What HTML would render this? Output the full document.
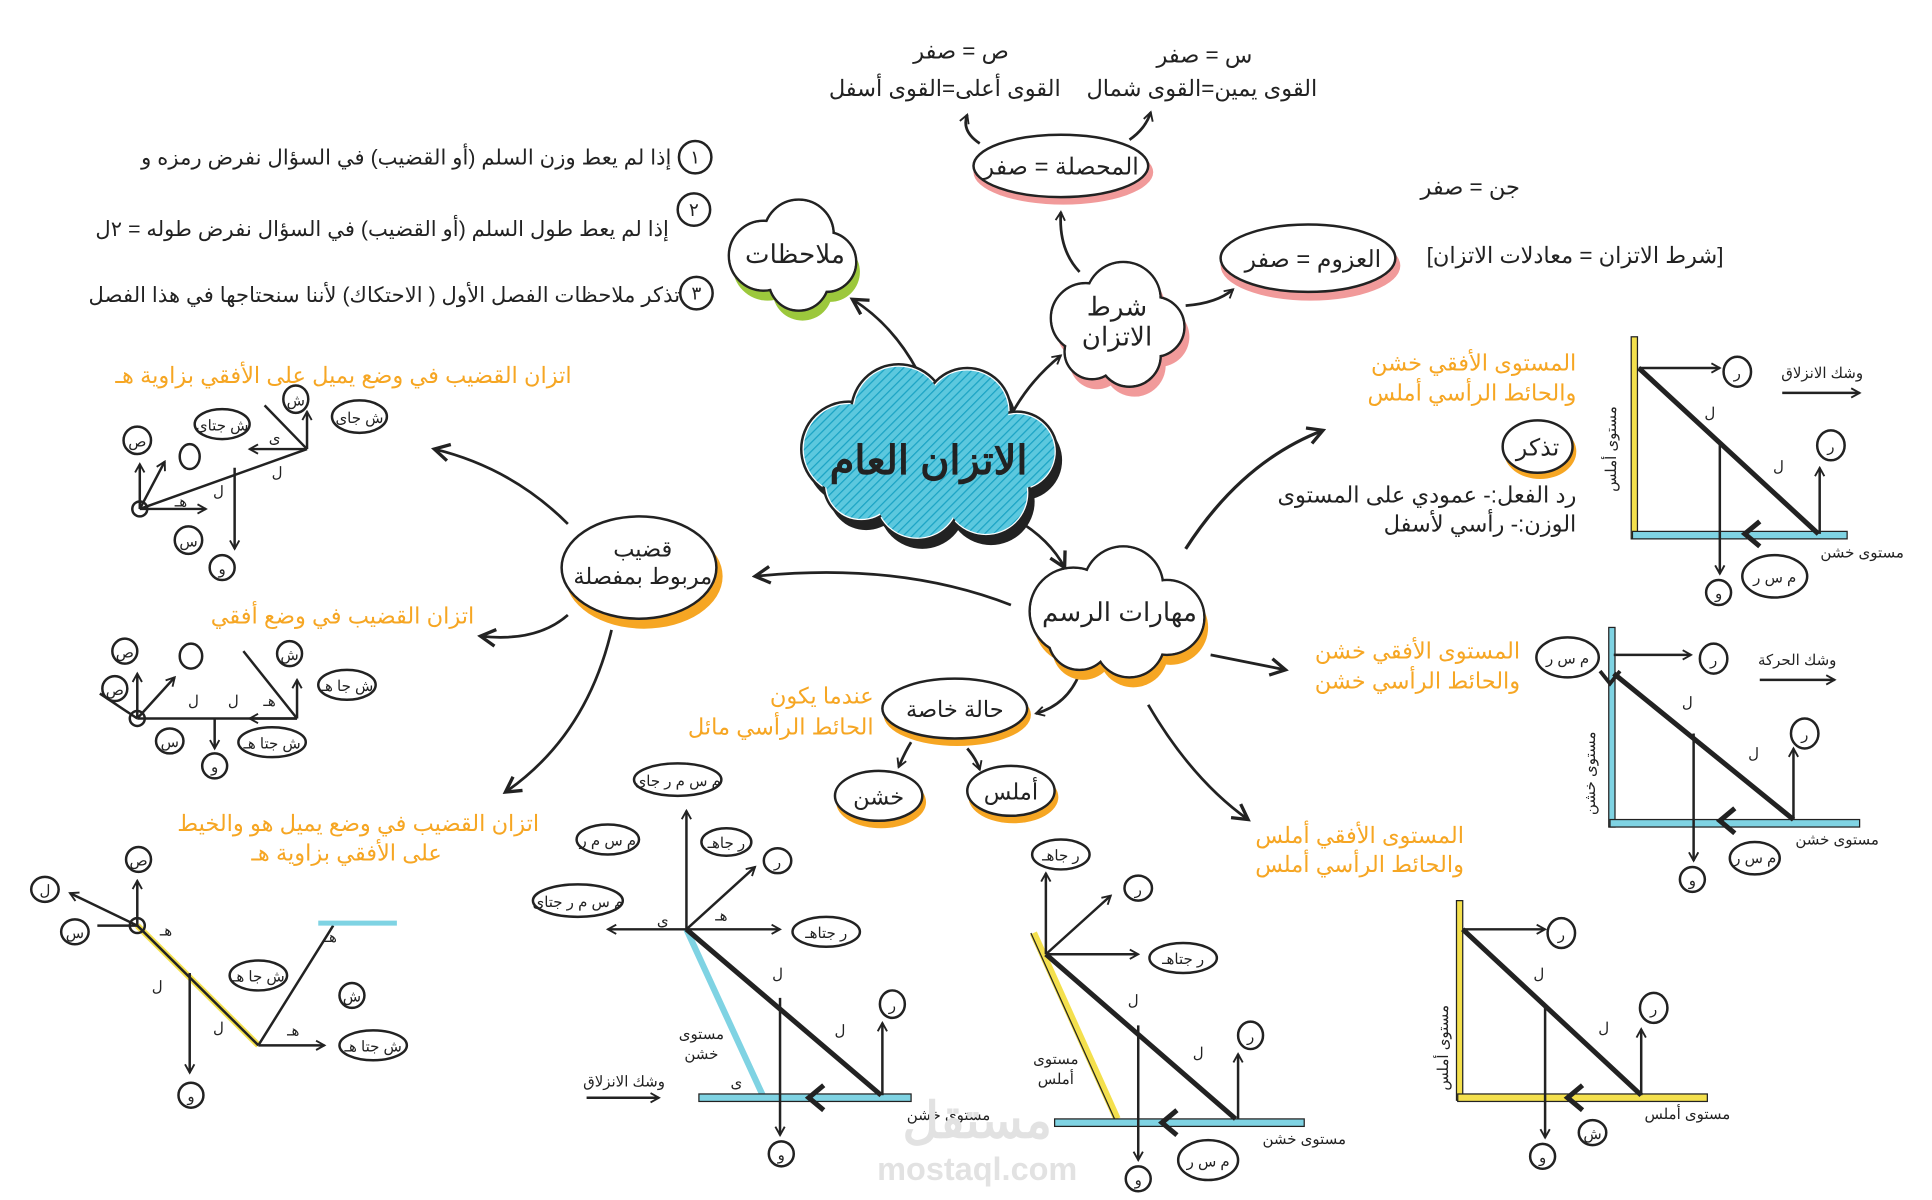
<!DOCTYPE html>
<html><head><meta charset="utf-8"><style>
html,body{margin:0;padding:0;background:#fff;}
svg{display:block;}
text{font-family:"Liberation Sans","Noto Sans CJK SC",sans-serif;}
</style></head><body>
<svg width="1932" height="1200" viewBox="0 0 1548 962" preserveAspectRatio="none" xmlns="http://www.w3.org/2000/svg">
<defs>
<marker id="ah" viewBox="0 0 12 12" refX="10" refY="6" markerWidth="9" markerHeight="9" orient="auto" markerUnits="userSpaceOnUse"><path d="M1,1 L10,6 L1,11" fill="none" stroke="#222" stroke-width="2"/></marker>
<marker id="ahb" viewBox="0 0 12 12" refX="10" refY="6" markerWidth="16" markerHeight="16" orient="auto" markerUnits="userSpaceOnUse"><path d="M1,1 L10,6 L1,11" fill="none" stroke="#222" stroke-width="2"/></marker>
<pattern id="hatch" width="5" height="5" patternUnits="userSpaceOnUse" patternTransform="rotate(45)"><rect width="5" height="5" fill="#5cc8de"/><line x1="0" y1="0" x2="0" y2="5" stroke="#1aa3c4" stroke-width="2"/></pattern>
</defs>
<g font-size="18" fill="#222" text-anchor="middle">
<!-- top texts -->
<text x="770" y="47">ص = صفر</text>
<text x="757" y="77">القوى أعلى=القوى أسفل</text>
<text x="965" y="50">س = صفر</text>
<text x="963" y="77">القوى يمين=القوى شمال</text>
<text x="1178" y="156">جن = صفر</text>
<text x="1262" y="211">[شرط الاتزان = معادلات الاتزان]</text>
</g>
<g fill="none" stroke="#222" stroke-width="2.2">
<path d="M785,115 Q770,105 775,92" marker-end="url(#ah)"/>
<path d="M905,112 Q918,103 922,90" marker-end="url(#ah)"/>
<path d="M865,218 Q848,200 850,170" marker-end="url(#ah)"/>
<path d="M950,245 Q975,243 988,232" marker-end="url(#ah)"/>
<path d="M735,297 Q715,260 683,240" marker-end="url(#ahb)"/>
<path d="M810,333 Q825,305 850,285" marker-end="url(#ah)"/>
<path d="M808,413 Q840,430 853,455" marker-end="url(#ahb)"/>
<path d="M810,485 Q720,450 605,462" marker-end="url(#ahb)"/>
<path d="M455,420 Q410,375 348,360" marker-end="url(#ahb)"/>
<path d="M455,493 Q430,515 385,510" marker-end="url(#ahb)"/>
<path d="M490,505 Q470,590 405,635" marker-end="url(#ahb)"/>
<path d="M950,440 Q995,370 1060,345" marker-end="url(#ahb)" stroke-width="2.6"/>
<path d="M970,525 Q1005,532 1030,537" marker-end="url(#ahb)"/>
<path d="M920,565 Q955,625 1000,657" marker-end="url(#ahb)"/>
<path d="M865,540 Q855,565 830,572" marker-end="url(#ah)"/>
<path d="M730,595 Q725,603 720,615" marker-end="url(#ah)"/>
<path d="M775,600 Q782,608 785,617" marker-end="url(#ah)"/>
</g>
<!-- ellipses -->
<ellipse cx="852" cy="138" rx="72" ry="26" fill="#f19a9a"/>
<ellipse cx="850" cy="133" rx="70" ry="25" fill="#fff" stroke="#222" stroke-width="2"/>
<text x="850" y="140" font-size="19" text-anchor="middle" fill="#222">المحصلة = صفر</text>
<ellipse cx="1050" cy="213" rx="72" ry="28" fill="#f19a9a"/>
<ellipse cx="1048" cy="207" rx="70" ry="27" fill="#fff" stroke="#222" stroke-width="2"/>
<text x="1052" y="214" font-size="19" text-anchor="middle" fill="#222">العزوم = صفر</text>
<!-- cloud sharṭ -->
<g fill="#f19a9a" transform="translate(4,8)"><circle cx="870" cy="255" r="28"/><circle cx="900" cy="240" r="30"/><circle cx="925" cy="262" r="24"/><circle cx="905" cy="285" r="25"/><circle cx="875" cy="282" r="22"/></g>
<g fill="#fff" stroke="#222" stroke-width="2"><circle cx="870" cy="255" r="28"/><circle cx="900" cy="240" r="30"/><circle cx="925" cy="262" r="24"/><circle cx="905" cy="285" r="25"/><circle cx="875" cy="282" r="22"/></g>
<g fill="#fff"><circle cx="870" cy="255" r="27"/><circle cx="900" cy="240" r="29"/><circle cx="925" cy="262" r="23"/><circle cx="905" cy="285" r="24"/><circle cx="875" cy="282" r="21"/><circle cx="895" cy="262" r="25"/></g>
<text x="895" y="253" font-size="21" text-anchor="middle" fill="#222">شرط</text>
<text x="895" y="277" font-size="21" text-anchor="middle" fill="#222">الاتزان</text>
<!-- cloud notes -->
<g fill="#9cc83c" transform="translate(3,8)"><circle cx="612" cy="205" r="28"/><circle cx="640" cy="188" r="28"/><circle cx="662" cy="210" r="24"/><circle cx="640" cy="225" r="24"/></g>
<g fill="#fff" stroke="#222" stroke-width="2"><circle cx="612" cy="205" r="28"/><circle cx="640" cy="188" r="28"/><circle cx="662" cy="210" r="24"/><circle cx="640" cy="225" r="24"/></g>
<g fill="#fff"><circle cx="612" cy="205" r="27"/><circle cx="640" cy="188" r="27"/><circle cx="662" cy="210" r="23"/><circle cx="640" cy="225" r="23"/><circle cx="636" cy="205" r="22"/></g>
<text x="637" y="211" font-size="21" text-anchor="middle" fill="#222">ملاحظات</text>
<!-- main cloud -->
<g fill="#222" transform="translate(4,7)"><circle cx="680" cy="360" r="38"/><circle cx="720" cy="330" r="38"/><circle cx="775" cy="330" r="35"/><circle cx="815" cy="362" r="32"/><circle cx="790" cy="395" r="35"/><circle cx="735" cy="398" r="35"/><circle cx="690" cy="388" r="30"/></g>
<g fill="#fff" stroke="#222" stroke-width="2"><circle cx="680" cy="360" r="38"/><circle cx="720" cy="330" r="38"/><circle cx="775" cy="330" r="35"/><circle cx="815" cy="362" r="32"/><circle cx="790" cy="395" r="35"/><circle cx="735" cy="398" r="35"/><circle cx="690" cy="388" r="30"/></g>
<g fill="url(#hatch)"><circle cx="680" cy="360" r="36"/><circle cx="720" cy="330" r="36"/><circle cx="775" cy="330" r="33"/><circle cx="815" cy="362" r="30"/><circle cx="790" cy="395" r="33"/><circle cx="735" cy="398" r="33"/><circle cx="690" cy="388" r="28"/><circle cx="745" cy="362" r="40"/></g>
<text x="744" y="380" font-size="32" font-weight="bold" text-anchor="middle" fill="#222">الاتزان العام</text>
<!-- skills cloud -->
<g fill="#f6a623" transform="translate(3,8)"><circle cx="860" cy="490" r="35"/><circle cx="900" cy="470" r="32"/><circle cx="935" cy="495" r="30"/><circle cx="905" cy="515" r="28"/><circle cx="865" cy="512" r="25"/></g>
<g fill="#fff" stroke="#222" stroke-width="2"><circle cx="860" cy="490" r="35"/><circle cx="900" cy="470" r="32"/><circle cx="935" cy="495" r="30"/><circle cx="905" cy="515" r="28"/><circle cx="865" cy="512" r="25"/></g>
<g fill="#fff"><circle cx="860" cy="490" r="34"/><circle cx="900" cy="470" r="31"/><circle cx="935" cy="495" r="29"/><circle cx="905" cy="515" r="27"/><circle cx="865" cy="512" r="24"/><circle cx="895" cy="493" r="28"/></g>
<text x="897" y="498" font-size="21" text-anchor="middle" fill="#222">مهارات الرسم</text>
<!-- qadeeb circle -->
<ellipse cx="516" cy="462" rx="63" ry="42" fill="#f6a623"/>
<ellipse cx="512" cy="455" rx="62" ry="41" fill="#fff" stroke="#222" stroke-width="2"/>
<text x="515" y="446" font-size="18" text-anchor="middle" fill="#222">قضيب</text>
<text x="515" y="468" font-size="18" text-anchor="middle" fill="#222">مربوط بمفصلة</text>
<!-- notes list -->
<g font-size="17" fill="#222" text-anchor="end">
<text x="538" y="132">إذا لم يعط وزن السلم (أو القضيب) في السؤال نفرض رمزه و</text>
<text x="536" y="189">إذا لم يعط طول السلم (أو القضيب) في السؤال نفرض طوله = ٢ل</text>
<text x="545" y="242">تذكر ملاحظات الفصل الأول ( الاحتكاك) لأننا سنحتاجها في هذا الفصل</text>
</g>
<g fill="none" stroke="#222" stroke-width="2"><circle cx="557" cy="126" r="13"/><circle cx="556" cy="168" r="13"/><circle cx="558" cy="235" r="13"/></g>
<g font-size="15" fill="#222" text-anchor="middle"><text x="557" y="131">١</text><text x="556" y="173">٢</text><text x="558" y="240">٣</text></g>
<!-- orange titles -->
<g font-size="18" fill="#f6a623" text-anchor="end">
<text x="458" y="307">اتزان القضيب في وضع يميل على الأفقي بزاوية هـ</text>
<text x="380" y="500">اتزان القضيب في وضع أفقي</text>
<text x="432" y="666">اتزان القضيب في وضع يميل هو والخيط</text>
<text x="354" y="690">على الأفقي بزاوية هـ</text>
<text x="1263" y="297">المستوى الأفقي خشن</text>
<text x="1263" y="321">والحائط الرأسي أملس</text>
<text x="1218" y="528">المستوى الأفقي خشن</text>
<text x="1218" y="552">والحائط الرأسي خشن</text>
<text x="1173" y="676">المستوى الأفقي أملس</text>
<text x="1173" y="699">والحائط الرأسي أملس</text>
<text x="700" y="564">عندما يكون</text>
<text x="700" y="589">الحائط الرأسي مائل</text>
</g>
<g font-size="18" fill="#222" text-anchor="end">
<text x="1263" y="403">رد الفعل:- عمودي على المستوى</text>
<text x="1263" y="426">الوزن:- رأسي لأسفل</text>
</g>
<ellipse cx="1234" cy="362" rx="29" ry="22" fill="#f6a623"/>
<ellipse cx="1232" cy="358" rx="28" ry="21" fill="#fff" stroke="#222" stroke-width="2"/>
<text x="1232" y="365" font-size="19" text-anchor="middle" fill="#222">تذكر</text>
<!-- hala khassa -->
<ellipse cx="767" cy="573" rx="59" ry="25" fill="#f6a623"/>
<ellipse cx="765" cy="568" rx="58" ry="24" fill="#fff" stroke="#222" stroke-width="2"/>
<text x="765" y="575" font-size="18" text-anchor="middle" fill="#222">حالة خاصة</text>
<ellipse cx="706" cy="643" rx="36" ry="21" fill="#f6a623"/>
<ellipse cx="704" cy="638" rx="35" ry="20" fill="#fff" stroke="#222" stroke-width="2"/>
<text x="704" y="645" font-size="18" text-anchor="middle" fill="#222">خشن</text>
<ellipse cx="812" cy="639" rx="36" ry="21" fill="#f6a623"/>
<ellipse cx="810" cy="634" rx="35" ry="20" fill="#fff" stroke="#222" stroke-width="2"/>
<text x="810" y="641" font-size="18" text-anchor="middle" fill="#222">أملس</text>

<!-- Right diagram 1 -->
<rect x="1307" y="270" width="5" height="162" fill="#f4e04d" stroke="#222" stroke-width="1"/>
<rect x="1308" y="426" width="172" height="6" fill="#7fd3e3" stroke="#222" stroke-width="1"/>
<g fill="none" stroke="#222" stroke-width="2">
<line x1="1313" y1="295" x2="1457" y2="428" stroke-width="4"/>
<line x1="1313" y1="295" x2="1378" y2="295" marker-end="url(#ah)"/>
<line x1="1458" y1="428" x2="1458" y2="375" marker-end="url(#ah)"/>
<line x1="1378" y1="355" x2="1378" y2="460" marker-end="url(#ah)"/>
<path d="M1410,418 L1398,428 L1410,438" stroke-width="4"/>
<line x1="1428" y1="315" x2="1490" y2="315" marker-end="url(#ah)"/>
<ellipse cx="1392" cy="298" rx="11" ry="12"/><ellipse cx="1467" cy="357" rx="11" ry="12"/><ellipse cx="1377" cy="475" rx="10" ry="10"/><ellipse cx="1422" cy="462" rx="26" ry="17"/>
</g>
<g font-size="12" fill="#222" text-anchor="middle">
<text x="1460" y="303">وشك الانزلاق</text><text x="1492" y="447">مستوى خشن</text>
<text x="1392" y="303">ر</text><text x="1467" y="362">ر</text><text x="1377" y="480">و</text><text x="1422" y="467">م س ر</text>
<text x="1370" y="335">ل</text><text x="1425" y="378">ل</text>
<text transform="translate(1295,360) rotate(-90)">مستوى أملس</text>
</g>
<!-- Right diagram 2 -->
<rect x="1289" y="503" width="5" height="160" fill="#7fd3e3" stroke="#222" stroke-width="1"/>
<rect x="1290" y="657" width="200" height="6" fill="#7fd3e3" stroke="#222" stroke-width="1"/>
<g fill="none" stroke="#222" stroke-width="2">
<line x1="1293" y1="540" x2="1437" y2="657" stroke-width="4"/>
<line x1="1293" y1="525" x2="1355" y2="525" marker-end="url(#ah)"/>
<line x1="1437" y1="657" x2="1437" y2="600" marker-end="url(#ah)"/>
<line x1="1357" y1="588" x2="1357" y2="690" marker-end="url(#ah)"/>
<path d="M1390,648 L1378,658 L1390,668" stroke-width="4"/>
<path d="M1298,538 L1290,548 L1282,538" stroke-width="3"/>
<line x1="1410" y1="545" x2="1470" y2="545" marker-end="url(#ah)"/>
<ellipse cx="1373" cy="528" rx="11" ry="12"/><ellipse cx="1446" cy="588" rx="11" ry="12"/><ellipse cx="1356" cy="705" rx="10" ry="10"/><ellipse cx="1406" cy="688" rx="20" ry="13"/><ellipse cx="1256" cy="527" rx="25" ry="16"/>
</g>
<g font-size="12" fill="#222" text-anchor="middle">
<text x="1440" y="533">وشك الحركة</text><text x="1472" y="677">مستوى خشن</text>
<text x="1373" y="533">ر</text><text x="1446" y="593">ر</text><text x="1356" y="710">و</text><text x="1406" y="692">م س ر</text><text x="1256" y="532">م س ر</text>
<text x="1352" y="567">ل</text><text x="1405" y="608">ل</text>
<text transform="translate(1278,620) rotate(-90)">مستوى خشن</text>
</g>
<!-- Right diagram 3 -->
<rect x="1167" y="722" width="5" height="160" fill="#f4e04d" stroke="#222" stroke-width="1"/>
<rect x="1168" y="877" width="200" height="6" fill="#f4e04d" stroke="#222" stroke-width="1"/>
<g fill="none" stroke="#222" stroke-width="2">
<line x1="1172" y1="745" x2="1315" y2="878" stroke-width="4"/>
<line x1="1172" y1="745" x2="1238" y2="745" marker-end="url(#ah)"/>
<line x1="1315" y1="878" x2="1315" y2="825" marker-end="url(#ah)"/>
<line x1="1238" y1="805" x2="1238" y2="912" marker-end="url(#ah)"/>
<path d="M1268,870 L1256,880 L1268,890" stroke-width="4"/>
<ellipse cx="1251" cy="748" rx="11" ry="12"/><ellipse cx="1325" cy="808" rx="11" ry="12"/><ellipse cx="1236" cy="927" rx="10" ry="10"/><ellipse cx="1276" cy="908" rx="11" ry="10"/>
</g>
<g font-size="12" fill="#222" text-anchor="middle">
<text x="1352" y="897">مستوى أملس</text>
<text x="1251" y="753">ر</text><text x="1325" y="813">ر</text><text x="1236" y="932">و</text><text x="1276" y="913">ش</text>
<text x="1233" y="785">ل</text><text x="1285" y="828">ل</text>
<text transform="translate(1160,840) rotate(-90)">مستوى أملس</text>
</g>
<!-- middle diagram (rough wall) -->
<line x1="550" y1="745" x2="612" y2="880" stroke="#7fd3e3" stroke-width="5"/>
<rect x="560" y="877" width="170" height="6" fill="#7fd3e3" stroke="#222" stroke-width="1"/>
<g fill="none" stroke="#222" stroke-width="2">
<line x1="550" y1="745" x2="706" y2="878" stroke-width="4"/>
<line x1="550" y1="745" x2="550" y2="650" marker-end="url(#ah)"/>
<line x1="550" y1="745" x2="605" y2="695" marker-end="url(#ah)"/>
<line x1="550" y1="745" x2="625" y2="745" marker-end="url(#ah)"/>
<line x1="550" y1="745" x2="487" y2="745" marker-end="url(#ah)"/>
<line x1="707" y1="878" x2="707" y2="820" marker-end="url(#ah)"/>
<line x1="625" y1="800" x2="625" y2="910" marker-end="url(#ah)"/>
<path d="M660,870 L648,880 L660,890" stroke-width="4"/>
<line x1="470" y1="880" x2="528" y2="880" marker-end="url(#ah)"/>
<ellipse cx="543" cy="625" rx="35" ry="13"/><ellipse cx="582" cy="675" rx="20" ry="11"/><ellipse cx="487" cy="673" rx="25" ry="12"/><ellipse cx="623" cy="690" rx="11" ry="10"/><ellipse cx="463" cy="722" rx="36" ry="13"/><ellipse cx="662" cy="747" rx="27" ry="12"/><ellipse cx="715" cy="805" rx="10" ry="11"/><ellipse cx="626" cy="925" rx="10" ry="10"/>
</g>
<g font-size="12" fill="#222" text-anchor="middle">
<text x="543" y="630">م س م ر جاى</text><text x="582" y="680">ر جاهـ</text><text x="487" y="678">م س م ر</text><text x="623" y="695">ر</text><text x="463" y="727">م س م ر جتاى</text><text x="662" y="752">ر جتاهـ</text><text x="715" y="810">ر</text><text x="626" y="930">و</text>
<text x="578" y="738">هـ</text><text x="531" y="742">ى</text><text x="623" y="785">ل</text><text x="673" y="830">ل</text>
<text x="562" y="833">مستوى</text><text x="562" y="849">خشن</text><text x="500" y="871">وشك الانزلاق</text><text x="760" y="898">مستوى خشن</text><text x="590" y="872">ى</text>
</g>
<!-- middle-right diagram (smooth wall) -->
<line x1="828" y1="748" x2="895" y2="897" stroke="#f4e04d" stroke-width="6"/>
<line x1="826" y1="748" x2="893" y2="897" stroke="#222" stroke-width="1"/>
<rect x="845" y="897" width="200" height="6" fill="#7fd3e3" stroke="#222" stroke-width="1"/>
<g fill="none" stroke="#222" stroke-width="2">
<line x1="838" y1="765" x2="990" y2="897" stroke-width="4"/>
<line x1="838" y1="765" x2="838" y2="700" marker-end="url(#ah)"/>
<line x1="838" y1="765" x2="890" y2="718" marker-end="url(#ah)"/>
<line x1="838" y1="765" x2="912" y2="765" marker-end="url(#ah)"/>
<line x1="992" y1="897" x2="992" y2="845" marker-end="url(#ah)"/>
<line x1="912" y1="822" x2="912" y2="930" marker-end="url(#ah)"/>
<path d="M943,890 L931,900 L943,910" stroke-width="4"/>
<ellipse cx="850" cy="685" rx="23" ry="12"/><ellipse cx="912" cy="712" rx="11" ry="10"/><ellipse cx="948" cy="768" rx="27" ry="12"/><ellipse cx="1002" cy="830" rx="10" ry="11"/><ellipse cx="912" cy="945" rx="10" ry="10"/><ellipse cx="968" cy="930" rx="24" ry="16"/>
</g>
<g font-size="12" fill="#222" text-anchor="middle">
<text x="850" y="690">ر جاهـ</text><text x="912" y="717">ر</text><text x="948" y="773">ر جتاهـ</text><text x="1002" y="835">ر</text><text x="912" y="950">و</text><text x="968" y="935">م س ر</text>
<text x="908" y="806">ل</text><text x="960" y="848">ل</text>
<text x="846" y="853">مستوى</text><text x="846" y="869">أملس</text><text x="1045" y="917">مستوى خشن</text>
</g>
<!-- left diagram 1 -->
<g fill="none" stroke="#222" stroke-width="2">
<circle cx="112" cy="408" r="6"/>
<line x1="112" y1="408" x2="246" y2="360"/>
<line x1="112" y1="408" x2="112" y2="372" marker-end="url(#ah)"/>
<line x1="112" y1="408" x2="132" y2="370" marker-end="url(#ah)"/>
<line x1="112" y1="408" x2="165" y2="408" marker-end="url(#ah)"/>
<line x1="246" y1="360" x2="246" y2="330" marker-end="url(#ah)"/>
<line x1="246" y1="360" x2="200" y2="360" marker-end="url(#ah)"/>
<line x1="212" y1="325" x2="246" y2="360"/>
<line x1="188" y1="375" x2="188" y2="440" marker-end="url(#ah)"/>
<ellipse cx="110" cy="353" rx="11" ry="11"/><ellipse cx="152" cy="366" rx="8" ry="10"/><ellipse cx="178" cy="340" rx="22" ry="12"/><ellipse cx="237" cy="320" rx="10" ry="11"/><ellipse cx="288" cy="334" rx="22" ry="13"/><ellipse cx="151" cy="433" rx="11" ry="11"/><ellipse cx="178" cy="455" rx="10" ry="10"/>
</g>
<g font-size="12" fill="#222" text-anchor="middle">
<text x="110" y="358">ص</text><text x="178" y="345">ش جتاى</text><text x="237" y="325">ش</text><text x="288" y="339">ش جاى</text><text x="151" y="438">س</text><text x="178" y="460">و</text>
<text x="145" y="406">هـ</text><text x="175" y="398">ل</text><text x="222" y="383">ل</text><text x="220" y="355">ى</text>
</g>
<!-- left diagram 2 -->
<g fill="none" stroke="#222" stroke-width="2">
<circle cx="110" cy="576" r="6"/>
<line x1="110" y1="576" x2="238" y2="576"/>
<line x1="110" y1="576" x2="110" y2="540" marker-end="url(#ah)"/>
<line x1="110" y1="576" x2="140" y2="543" marker-end="url(#ah)"/>
<line x1="110" y1="576" x2="80" y2="556"/>
<line x1="238" y1="576" x2="238" y2="545" marker-end="url(#ah)"/>
<line x1="195" y1="522" x2="238" y2="576"/>
<line x1="238" y1="576" x2="200" y2="576" marker-end="url(#ah)"/>
<line x1="172" y1="576" x2="172" y2="600" marker-end="url(#ah)"/>
<ellipse cx="100" cy="522" rx="10" ry="10"/><ellipse cx="92" cy="552" rx="10" ry="10"/><ellipse cx="153" cy="526" rx="9" ry="10"/><ellipse cx="232" cy="524" rx="10" ry="10"/><ellipse cx="278" cy="549" rx="23" ry="12"/><ellipse cx="136" cy="594" rx="11" ry="10"/><ellipse cx="218" cy="595" rx="27" ry="12"/><ellipse cx="172" cy="614" rx="10" ry="10"/>
</g>
<g font-size="12" fill="#222" text-anchor="middle">
<text x="100" y="527">ص</text><text x="92" y="557">ص</text><text x="232" y="529">ش</text><text x="278" y="554">ش جا هـ</text><text x="136" y="599">س</text><text x="218" y="600">ش جتا هـ</text><text x="172" y="619">و</text>
<text x="155" y="566">ل</text><text x="187" y="566">ل</text><text x="216" y="566">هـ</text>
</g>
<!-- left diagram 3 -->
<line x1="110" y1="742" x2="207" y2="838" stroke="#f4e04d" stroke-width="5"/>
<g fill="none" stroke="#222" stroke-width="2">
<circle cx="110" cy="742" r="6"/>
<line x1="110" y1="742" x2="207" y2="838"/>
<line x1="207" y1="838" x2="267" y2="742"/>
<line x1="255" y1="740" x2="318" y2="740" stroke="#7fd3e3" stroke-width="4"/>
<line x1="110" y1="742" x2="110" y2="706" marker-end="url(#ah)"/>
<line x1="110" y1="742" x2="56" y2="716" marker-end="url(#ah)"/>
<line x1="110" y1="742" x2="78" y2="742"/>
<line x1="207" y1="838" x2="260" y2="838" marker-end="url(#ah)"/>
<line x1="152" y1="780" x2="152" y2="860" marker-end="url(#ah)"/>
<ellipse cx="111" cy="689" rx="10" ry="10"/><ellipse cx="36" cy="713" rx="11" ry="10"/><ellipse cx="60" cy="747" rx="11" ry="10"/><ellipse cx="207" cy="782" rx="23" ry="12"/><ellipse cx="282" cy="798" rx="10" ry="10"/><ellipse cx="299" cy="838" rx="27" ry="12"/><ellipse cx="153" cy="878" rx="10" ry="10"/>
</g>
<g font-size="12" fill="#222" text-anchor="middle">
<text x="111" y="694">ص</text><text x="36" y="718">ل</text><text x="60" y="752">س</text><text x="207" y="787">ش جا هـ</text><text x="282" y="803">ش</text><text x="299" y="843">ش جتا هـ</text><text x="153" y="883">و</text>
<text x="133" y="750">هـ</text><text x="126" y="795">ل</text><text x="175" y="828">ل</text><text x="235" y="830">هـ</text><text x="265" y="755">هـ</text>
</g>
<!-- watermark -->
<text x="783" y="912" font-size="40" font-weight="bold" fill="#e2e2e2" text-anchor="middle">مستقل</text>
<text x="783" y="946" font-size="26" font-weight="bold" fill="#e2e2e2" text-anchor="middle">mostaql.com</text>
</svg>
</body></html>
